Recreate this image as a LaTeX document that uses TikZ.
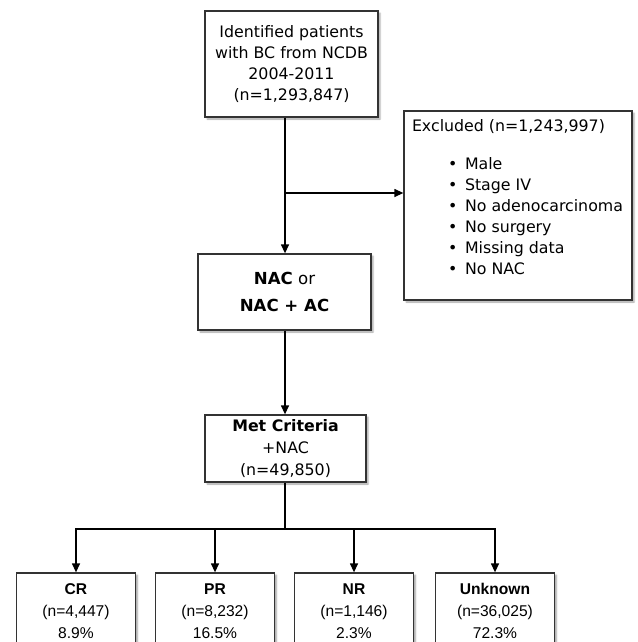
\documentclass[tikz,border=0pt]{standalone}
\usepackage{fontspec}
\setmainfont{DejaVu Sans}
\newfontfamily\arialfont{Liberation Sans}
\usepackage{tikz}
\usetikzlibrary{positioning, arrows.meta, shadows.blur}

\begin{document}
\begin{tikzpicture}[
    x=1pt, y=-1pt,
    box/.style={rectangle, draw=black!80, line width=1.3pt, fill=white, align=center, inner sep=0pt, font=\fontsize{15.8}{21}\selectfont, blur shadow={shadow xshift=2pt, shadow yshift=-2pt, shadow blur radius=1.5pt, shadow opacity=35}},
    resbox/.style={box, minimum width=119pt, minimum height=76pt, font=\arialfont\fontsize{15.6}{22}\selectfont},
    arr/.style={-{Triangle[length=9pt, width=8pt]}, line width=1.3pt}
]
\useasboundingbox (0,0) rectangle (637,642);

\node[box, minimum width=173pt, minimum height=106pt] (ncdb) at (291.5, 64) {Identified patients\\with BC from NCDB\\2004-2011\\(n=1,293,847)};
\node[box, minimum width=228pt, minimum height=189pt] (excl) at (518, 205.5) {\parbox[c][173pt][t]{212pt}{\fontsize{15.8}{21}\selectfont
    Excluded (n=1,243,997)\\[17pt]
    \hspace*{36pt}\makebox[17pt][l]{•}Male\\
    \hspace*{36pt}\makebox[17pt][l]{•}Stage IV\\
    \hspace*{36pt}\makebox[17pt][l]{•}No adenocarcinoma\\
    \hspace*{36pt}\makebox[17pt][l]{•}No surgery\\
    \hspace*{36pt}\makebox[17pt][l]{•}Missing data\\
    \hspace*{36pt}\makebox[17pt][l]{•}No NAC}};
\node[box, minimum width=173pt, minimum height=76pt, font=\fontsize{16.6}{21}\selectfont] (nac) at (284.5, 292) {\textbf{NAC} or\\[6pt]\textbf{NAC + AC}};
\node[box, minimum width=161pt, minimum height=67pt, font=\fontsize{15.8}{22}\selectfont] (met) at (285.5, 448.5) {\textbf{Met Criteria}\\+NAC\\(n=49,850)};

\node[resbox] (cr) at (76, 611) {\textbf{CR}\\(n=4,447)\\8.9\%};
\node[resbox] (pr) at (215, 611) {\textbf{PR}\\(n=8,232)\\16.5\%};
\node[resbox] (nr) at (354, 611) {\textbf{NR}\\(n=1,146)\\2.3\%};
\node[resbox] (unk) at (495, 611) {\textbf{Unknown}\\(n=36,025)\\72.3\%};

\coordinate (split) at (285, 193);
\coordinate (fork) at (285, 529);

\draw[arr] (ncdb.south -| split) -- (split |- nac.north);
\draw[arr] (split) -- (split -| excl.west);
\draw[arr] (nac.south -| split) -- (split |- met.north);
\draw[line width=1.3pt] (met.south -| fork) -- (fork);
\foreach \n in {cr, pr, nr, unk}
    \draw[arr] (fork) -| (\n.north);

\end{tikzpicture}
\end{document}
